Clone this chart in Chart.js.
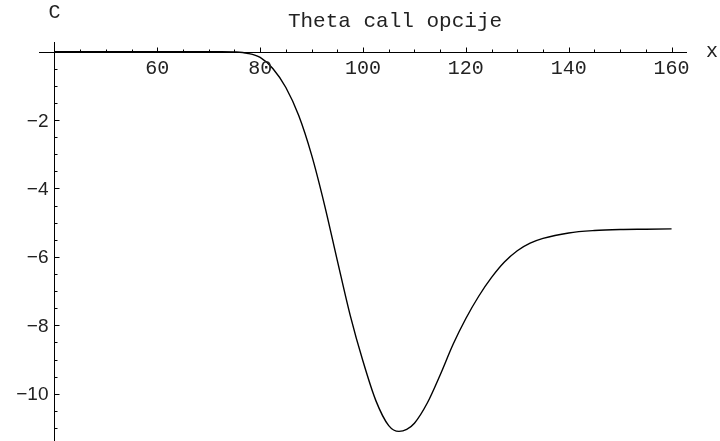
<!DOCTYPE html>
<html>
<head>
<meta charset="utf-8">
<script src="https://cdn.jsdelivr.net/npm/chart.js@4"></script>
<style>
  body { margin: 0; background: #fff; }
  #wrap { position: relative; width: 720px; height: 441px; }
</style>
</head>
<body>
<div id="wrap"><canvas id="theta"></canvas></div>
<script>
// values (x = underlying price, y = theta)
let xValues = [40, 45, 50, 55, 60, 65, 70, 72.5, 75, 77.5, 80, 82.5, 85, 87.5, 90, 92.5, 95, 97.5, 100,
               102.5, 105, 107, 108.5, 110, 112.5, 115, 117.5, 120, 122.5, 125, 127.5, 130, 132.5, 135, 140, 145, 150, 155, 160];
let thetaValues = [0, 0, 0, 0, 0, 0, 0, 0, -0.01, -0.05, -0.17, -0.5, -1.05, -1.87, -3.02, -4.47, -6.1, -7.7, -9.05,
                   -10.2, -10.93, -11.1, -11.04, -10.86, -10.27, -9.45, -8.56, -7.8, -7.15, -6.6, -6.15, -5.82, -5.6, -5.46, -5.3, -5.23, -5.2, -5.19, -5.18];

let xMajorTicks = [60, 80, 100, 120, 140, 160];
let xMinorTicks = [45, 50, 55, 65, 70, 75, 85, 90, 95, 105, 110, 115, 125, 130, 135, 145, 150, 155];
let yMajorTicks = [-2, -4, -6, -8, -10];
let yMinorTicks = [-0.5, -1, -1.5, -2.5, -3, -3.5, -4.5, -5, -5.5, -6.5, -7, -7.5, -8.5, -9, -9.5, -10.5, -11];

let title = "Theta call opcije";
let xAxisName = "x";
let yAxisName = "C";

let points = [];
for (let i = 0; i < xValues.length; i++) {
    points.push({x: xValues[i], y: thetaValues[i]});
}

// draws the Mathematica-like crossing axes with the library's scales
const axesPlugin = {
    id: "crossAxes",
    afterDatasetsDraw(chart) {
        const ctx = chart.ctx;
        const xs = chart.scales.x;
        const ys = chart.scales.y;
        const area = chart.chartArea;
        const y0 = Math.round(ys.getPixelForValue(0)) + 0.5;
        const x0 = Math.round(xs.getPixelForValue(40)) + 0.5;

        ctx.save();
        ctx.strokeStyle = "#000";
        ctx.lineWidth = 1;
        ctx.beginPath();
        ctx.moveTo(area.left, y0);
        ctx.lineTo(area.right, y0);
        ctx.moveTo(x0, area.top);
        ctx.lineTo(x0, area.bottom);

        xMajorTicks.forEach(v => {
            let px = Math.round(xs.getPixelForValue(v)) + 0.5;
            ctx.moveTo(px, y0);
            ctx.lineTo(px, y0 - 5);
        });
        xMinorTicks.forEach(v => {
            let px = Math.round(xs.getPixelForValue(v)) + 0.5;
            ctx.moveTo(px, y0);
            ctx.lineTo(px, y0 - 3);
        });
        yMajorTicks.forEach(v => {
            let py = Math.round(ys.getPixelForValue(v)) + 0.5;
            ctx.moveTo(x0, py);
            ctx.lineTo(x0 + 5, py);
        });
        yMinorTicks.forEach(v => {
            let py = Math.round(ys.getPixelForValue(v)) + 0.5;
            ctx.moveTo(x0, py);
            ctx.lineTo(x0 + 3, py);
        });
        ctx.stroke();

        ctx.fillStyle = "#222";
        ctx.font = "20px 'Liberation Mono'";
        ctx.textAlign = "center";
        ctx.textBaseline = "alphabetic";
        xMajorTicks.forEach(v => {
            ctx.fillText(String(v), xs.getPixelForValue(v), y0 + 21);
        });

        ctx.font = "19px 'Liberation Sans'";
        ctx.textAlign = "right";
        yMajorTicks.forEach(v => {
            ctx.fillText("\u2212" + Math.abs(v), x0 - 6, ys.getPixelForValue(v) + 6.5);
        });

        ctx.font = "20px 'Liberation Mono'";
        ctx.textAlign = "center";
        ctx.fillText(yAxisName, x0, 18);
        ctx.fillText(xAxisName, 712, y0 + 4);

        ctx.font = "21px 'Liberation Mono'";
        ctx.fillText(title, 395, 27);
        ctx.restore();
    }
};

const config = {
    type: "line",
    data: {
        datasets: [{
            data: points,
            borderColor: "#000",
            borderWidth: 1.4,
            pointRadius: 0,
            fill: false,
            cubicInterpolationMode: "monotone"
        }]
    },
    options: {
        responsive: false,
        animation: false,
        layout: { padding: { left: 39, right: 33, top: 42, bottom: 0 } },
        plugins: { legend: { display: false }, tooltip: { enabled: false } },
        scales: {
            x: { type: "linear", min: 37, max: 163, display: false },
            y: { type: "linear", min: -11.38, max: 0.28, display: false }
        }
    },
    plugins: [axesPlugin]
};

const canvas = document.getElementById("theta");
canvas.width = 720;
canvas.height = 441;
new Chart(canvas, config);
</script>
</body>
</html>
